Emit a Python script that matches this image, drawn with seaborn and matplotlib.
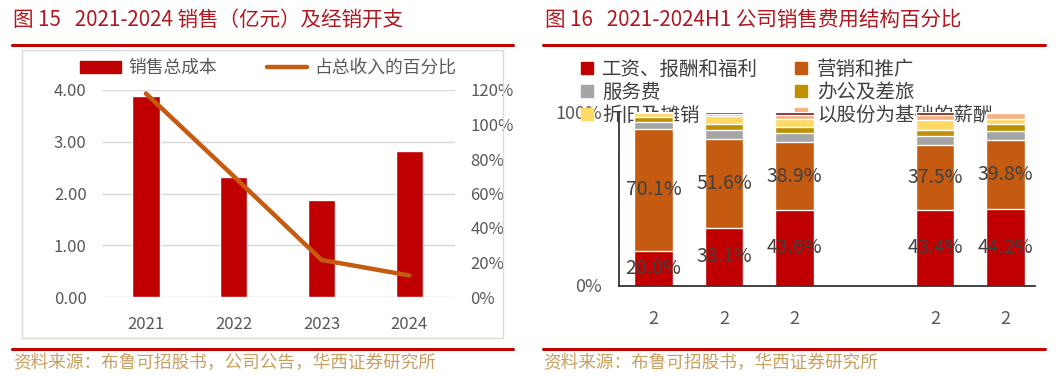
import numpy as np
import seaborn as sns
import matplotlib.pyplot as plt
from matplotlib.patches import Patch, Rectangle
from matplotlib.lines import Line2D

# 图15: 销售总成本(亿元) 与 占总收入的百分比
years = ["2021", "2022", "2023", "2024"]
sales_cost = [3.88, 2.32, 1.87, 2.82]
cost_pct = [118.0, 70.0, 21.5, 12.5]

# 图16: 销售费用结构(%)，第4个位置为空
periods = ["2021", "2022", "2023", "-", "2023H1", "2024H1"]
period_ticks = ["2", "2", "2", "", "2", "2"]
salary = [20.0, 33.1, 43.6, np.nan, 43.4, 44.2]
marketing = [70.1, 51.6, 38.9, np.nan, 37.5, 39.8]
service = [4.2, 5.0, 5.5, np.nan, 5.5, 5.0]
office = [2.8, 3.5, 3.5, np.nan, 3.5, 4.0]
depreciation = [2.5, 4.5, 4.5, np.nan, 5.5, 3.0]
share_based = [0.3, 1.0, 2.5, np.nan, 3.0, 3.5]
other = [0.1, 1.3, 1.5, np.nan, 1.6, 0.5]

sns.set_theme(style="white")
plt.rcParams["font.family"] = ["Noto Sans CJK SC", "DejaVu Sans"]

W, H = 1060, 376
fig = plt.figure(figsize=(W / 100, H / 100), dpi=100)


def fx(px):
    return px / W


def fy(py):
    return 1 - py / H


RED = "#C00000"
ORANGE = "#C55A11"
TITLE_C = "#B01820"
SRC_C = "#C99F60"
GREY_T = "#595959"

# ---------- 左图 ----------
fig.add_artist(Rectangle((fx(22), fy(338)), fx(481), 288 / H, transform=fig.transFigure,
                         fill=False, edgecolor="#D9D9D9", lw=1))
axl = fig.add_axes([fx(102), fy(297), fx(353), 207 / H])
sns.barplot(x=years, y=sales_cost, color=RED, saturation=1, width=0.31, ax=axl, zorder=2)
axl.set_ylim(0, 4)
axl.set_yticks([0, 1, 2, 3, 4])
axl.set_yticklabels([f"{v:.2f}" for v in [0, 1, 2, 3, 4]])
axl.yaxis.grid(True, color="#D9D9D9", lw=1)
axl.set_axisbelow(True)
axl.set_xlim(-0.5, 3.52)

axl2 = axl.twinx()
sns.lineplot(x=np.arange(len(years)), y=cost_pct, color=ORANGE, linewidth=3.2, ax=axl2,
             solid_capstyle="round")
axl2.set_ylim(0, 120)
axl2.set_yticks(range(0, 121, 20))
axl2.set_yticklabels([f"{v}%" for v in range(0, 121, 20)])

for a in (axl, axl2):
    for s in a.spines.values():
        s.set_visible(False)
    a.set_xlabel("")
    a.set_ylabel("")
    a.tick_params(length=0, labelsize=12, labelcolor=GREY_T)
axl.tick_params(axis="y", pad=11)
axl2.tick_params(axis="y", pad=11)
axl.tick_params(axis="x", pad=14)

fig.legend([Patch(color=RED), Line2D([], [], color=ORANGE, lw=3.2)],
           ["销售总成本", "占总收入的百分比"], loc="center left",
           bbox_to_anchor=(fx(80), fy(68)), ncol=2, frameon=False, fontsize=12.8,
           labelcolor=GREY_T, handlelength=2.3, handleheight=0.7, handletextpad=0.4,
           columnspacing=2.8, borderpad=0, borderaxespad=0)

# ---------- 右图 ----------
axr = fig.add_axes([fx(619), fy(285.5), fx(416), 173.5 / H])
series = [
    ("工资、报酬和福利", salary, RED),
    ("营销和推广", marketing, ORANGE),
    ("服务费", service, "#A5A5A5"),
    ("办公及差旅", office, "#BF9000"),
    ("折旧及摊销", depreciation, "#FFD966"),
    ("以股份为基础的薪酬", share_based, "#F4B183"),
    ("其他", other, "#7F1010"),
]
cum = np.zeros(len(periods))
layers = []
for name, vals, color in series:
    cum = cum + np.array(vals, dtype=float)
    layers.append((name, cum.copy(), color))
for name, top, color in reversed(layers):
    sns.barplot(x=periods, y=top, order=periods, color=color, saturation=1, width=0.55,
                edgecolor="white", linewidth=1, ax=axr, zorder=2)

for i in range(len(periods)):
    if np.isnan(salary[i]):
        continue
    axr.text(i, salary[i] / 2, f"{salary[i]:.1f}%", ha="center", va="center",
             fontsize=14, color="#404040", zorder=4)
    axr.text(i, salary[i] + marketing[i] / 2, f"{marketing[i]:.1f}%", ha="center",
             va="center", fontsize=14, color="#404040", zorder=4)

axr.set_ylim(0, 100)
axr.set_xlim(-0.49, 5.42)
axr.set_yticks([0, 100])
axr.set_yticklabels(["0%", "100%"])
axr.set_xticks(range(len(periods)))
axr.set_xticklabels(period_ticks)
axr.set_xlabel("")
axr.set_ylabel("")
for side in ("top", "right"):
    axr.spines[side].set_visible(False)
for side in ("left", "bottom"):
    axr.spines[side].set_color("#333333")
    axr.spines[side].set_linewidth(1.3)
axr.tick_params(length=0, labelsize=13, labelcolor=GREY_T)
axr.tick_params(axis="y", pad=12)
axr.tick_params(axis="x", pad=18)

order = [0, 2, 4, 1, 3, 5]
leg = axr.legend([Patch(color=series[k][2]) for k in order], [series[k][0] for k in order],
                 loc="upper left", bbox_to_anchor=(fx(581), fy(59)),
                 bbox_transform=fig.transFigure, ncol=2, frameon=False, fontsize=14,
                 labelcolor="#404040", handlelength=0.6, handleheight=0.6,
                 handletextpad=0.5, columnspacing=1.9, labelspacing=0.1,
                 borderpad=0, borderaxespad=0)
leg.set_zorder(1)

# ---------- 标题/来源/分隔线 ----------
fig.text(fx(13), fy(20), "图 15   2021-2024 销售（亿元）及经销开支", fontsize=14.8,
         color=TITLE_C, va="center", ha="left")
fig.text(fx(545), fy(20), "图 16   2021-2024H1 公司销售费用结构百分比", fontsize=14.8,
         color=TITLE_C, va="center", ha="left")
for x0, x1 in ((12, 513), (543, 1045)):
    fig.add_artist(Line2D([fx(x0), fx(x1)], [fy(45), fy(45)], color=RED, lw=2.2,
                          transform=fig.transFigure))
    fig.add_artist(Line2D([fx(x0), fx(x1)], [fy(349), fy(349)], color=RED, lw=2.2,
                          transform=fig.transFigure))
fig.text(fx(13), fy(363), "资料来源：布鲁可招股书，公司公告，华西证券研究所", fontsize=12.7,
         color=SRC_C, va="center", ha="left")
fig.text(fx(543), fy(363), "资料来源：布鲁可招股书，华西证券研究所", fontsize=12.7,
         color=SRC_C, va="center", ha="left")

fig.savefig("out.png", dpi=100)
